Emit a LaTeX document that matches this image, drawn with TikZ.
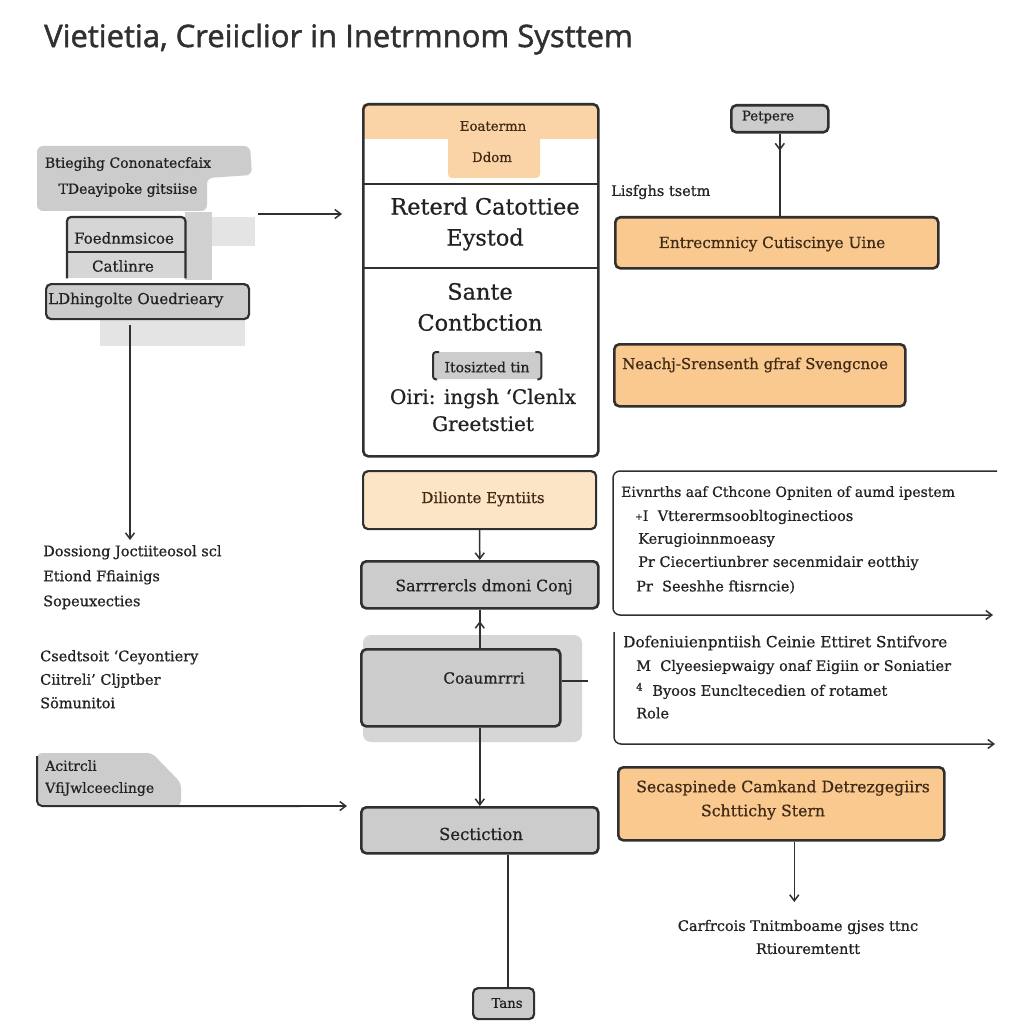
\documentclass[tikz,border=0pt]{standalone}
\usepackage{fontspec}
\setmainfont{DejaVu Serif}[FakeBold=0.7]
\newfontfamily\titlefont[FakeBold=1.4]{Open Sans}
\usetikzlibrary{arrows.meta}
\definecolor{orng}{RGB}{249,201,144}
\definecolor{lorng}{RGB}{252,229,198}
\definecolor{gry}{RGB}{204,204,204}
\definecolor{mgry}{RGB}{214,214,214}
\definecolor{lgry}{RGB}{228,228,228}
\definecolor{dk}{RGB}{48,48,48}
\definecolor{txt}{RGB}{34,34,34}
\definecolor{brn}{RGB}{64,42,22}
\begin{document}
\begin{tikzpicture}[x=1pt,y=-1pt,
  every node/.style={text=txt, inner sep=0pt},
  box/.style={draw=dk, line width=2.6pt, rounded corners=5pt, anchor=north west},
  thin/.style={draw=dk, line width=1.5pt},
  arr/.style={draw=dk, line width=1.5pt, -{Straight Barb[length=6pt,width=9pt]}},
  sm/.style={font=\fontsize{15}{19}\selectfont},
  fs/.style={font=\fontsize{#1}{#1}\selectfont},
  lg/.style={font=\fontsize{22.4}{31}\selectfont, align=center},
  lefttxt/.style={anchor=north west, align=left, font=\fontsize{14.5}{25}\selectfont},
  brtxt/.style={anchor=west, font=\fontsize{14.5}{20}\selectfont}]
\useasboundingbox[fill=white] (0,0) rectangle (1023,1024);

% title
\node[anchor=west, font=\titlefont\fontsize{31}{34}\selectfont, text=dk] (title) at (44,39) {Vietietia, Creiiclior in Inetrmnom Systtem};

% ---------- left column ----------
\fill[gry, rounded corners=6pt] (37,146) -- (250,146) -- (252,175) -- (207,178) -- (207,211) -- (37,211) -- cycle;
\node[align=center, font=\fontsize{14}{26}\selectfont] (lt1) at (128,177) {Btiegihg Cononatecfaix\\TDeayipoke gitsiise};
\fill[lgry] (212,217) rectangle (255,246);
\fill[gry!90] (185,212) rectangle (212,280);
\node[anchor=north west, fill=mgry, minimum width=118, minimum height=61] (fc) at (67,217) {};
\draw[thin, line width=2.2pt, rounded corners=4pt] (fc.south west) -- (fc.north west) -- (fc.north east) -- (fc.south east);
\draw[thin] (67,252) -- (185,252);
\node[sm] (fc1) at (124,238) {Foednmsicoe};
\node[sm] (fc2) at (123,266) {Catlinre};
\fill[lgry] (100,318) rectangle (245,346);
\node[box, fill=gry, line width=2.2pt, minimum width=203, minimum height=35] (ld) at (45,283) {};
\node[sm, anchor=west] (ldt) at (48,300) {LDhingolte Ouedrieary};
\coordinate (ldout) at (130,325);
\coordinate (ldend) at (130,540);
\draw[arr] (ldout) -- (ldend);
\coordinate (fcout) at (258,214);
\coordinate (bigin) at (342,214);
\draw[arr] (fcout) -- (bigin);

\node[lefttxt] (lt2) at (43,545) {Dossiong Joctiiteosol scl\\Etiond Ffiainigs\\Sopeuxecties};
\node[lefttxt, font=\fontsize{14.5}{23.5}\selectfont] (lt3) at (40,650) {Csedtsoit `Ceyontiery\\Ciitreli' Cljptber\\S\"omunitoi};

\fill[gry, rounded corners=5pt] (37,753) -- (152,753) -- (181,783) -- (181,806) -- (37,806) -- cycle;
\node[anchor=north west, align=left, font=\fontsize{14}{22}\selectfont] (ac) at (45,760) {Acitrcli\\VfiJwlceeclinge};
\coordinate (acend) at (347,806);
\draw[thin, line width=2pt, rounded corners=5pt] (37,756) -- (37,806) -- (300,806);
\draw[arr] (250,806) -- (acend);

% ---------- centre column ----------
\fill[orng!80, rounded corners=4pt] (362,103) rectangle (597,139);
\fill[orng!80] (362,120) rectangle (597,139);
\fill[orng!80, rounded corners=4pt] (448,130) rectangle (540,178);
\node[box, minimum width=235, minimum height=352] (big) at (362,103) {};
\draw[thin] (362,184) -- (597,184);
\draw[thin] (362,268) -- (597,268);
\node[fs=13.3, text=brn] (b1) at (493,126) {Eoatermn};
\node[fs=13.3, text=brn] (b2) at (492,157) {Ddom};
\node[lg] (b3) at (485,224) {Reterd Catottiee\\Eystod};
\node[lg] (b4) at (480,307) {Sante\\Contbction};
\node[anchor=north west, fill=gry, rounded corners=4pt, minimum width=108, minimum height=27] (iso) at (433,352) {};
\draw[thin, line width=2pt, rounded corners=3pt] ([xshift=4pt]iso.south west) -- (iso.south west) -- (iso.north west) -- ([xshift=6pt]iso.north west);
\draw[thin, line width=2pt, rounded corners=3pt] ([xshift=-4pt]iso.south east) -- (iso.south east) -- (iso.north east) -- ([xshift=-6pt]iso.north east);
\node[fs=14] (isot) at (487,367) {Itosizted tin};
\node[lg, font=\fontsize{20}{27}\selectfont] (b5) at (483,410) {Oiri: ingsh `Clenlx\\Greetstiet};

\node[box, fill=lorng, line width=2.2pt, minimum width=233, minimum height=58] (dil) at (362,470) {};
\node[sm, text=brn] (dilt) at (483,499) {Dilionte Eyntiits};
\node[box, fill=gry, minimum width=237, minimum height=47] (sarr) at (360,560) {};
\node[fs=15.7] (sarrt) at (484,587) {Sarrrercls dmoni Conj};
\draw[arr] (dil.south) -- (sarr.north);

\fill[mgry, rounded corners=8pt] (363,635) rectangle (582,742);
\node[box, fill=gry, minimum width=199, minimum height=77] (coam) at (360,648) {};
\node[fs=15.3] (coamt) at (484,678) {Coaumrrri};
\draw[thin] (sarr.south) -- (sarr.south |- coam.north);
\draw[arr] (sarr.south |- coam.north) -- ([yshift=27pt]sarr.south |- coam.north);
\coordinate (coamr) at (588,681);
\draw[thin] (coam.east |- coamr) -- (coamr);

\node[box, fill=gry, minimum width=237, minimum height=46] (sect) at (360,806) {};
\node[fs=16.5] (sectt) at (481,834) {Sectiction};
\draw[arr] (coam.south -| sect.north) -- (sect.north);
\node[box, fill=gry, line width=2.2pt, minimum width=61, minimum height=31] (tans) at (472,987) {};
\node[fs=13.3] (tanst) at (507,1003) {Tans};
\draw[thin] (sect.south -| 508,0) -- (tans.north -| 508,0);

% ---------- right column ----------
\node[box, fill=gry, minimum width=97, minimum height=27] (pet) at (730,104) {};
\node[fs=13.3] (pett) at (768,117) {Petpere};
\node[box, fill=orng, minimum width=323, minimum height=51] (ent) at (614,216) {};
\node[fs=15.3, text=brn] (entt) at (772,244) {Entrecmnicy Cutiscinye Uine};
\draw[thin] (pet.south) -- (pet.south |- ent.north);
\draw[arr] (pet.south) -- ([yshift=-17pt]pet.south);
\node[fs=14.5, anchor=west] (lis) at (611,192) {Lisfghs tsetm};
\node[box, fill=orng, minimum width=291, minimum height=62] (nea) at (613,343) {};
\node[sm, anchor=west, text=brn] (neat) at (622,365) {Neachj-Srensenth gfraf Svengcnoe};

\coordinate (br1a) at (997,471);
\coordinate (br1b) at (993,615);
\draw[arr, rounded corners=7pt] (br1a) -- (613,471) -- (613,615) -- (br1b);
\node[brtxt, font=\fontsize{14}{19}\selectfont] (r1) at (621,493) {Eivnrths aaf Cthcone Opniten of aumd ipestem};
\node[brtxt] (r2) at (635,517) {\raisebox{1pt}{\fontsize{9}{9}\selectfont +}I\ \ Vtterermsoobltoginectioos};
\node[brtxt] (r3) at (638,540) {Kerugioinnmoeasy};
\node[brtxt] (r4) at (638,563) {Pr Ciecertiunbrer secenmidair eotthiy};
\node[brtxt] (r5) at (636,587) {Pr\ \ Seeshhe ftisrncie)};

\coordinate (br2a) at (614,632);
\coordinate (br2b) at (995,744);
\draw[arr, rounded corners=7pt] (br2a) -- (614,744) -- (br2b);
\node[brtxt, font=\fontsize{15.3}{20}\selectfont] (s1) at (623,643) {Dofeniuienpntiish Ceinie Ettiret Sntifvore};
\node[brtxt] (s2) at (636,667) {M\ \ Clyeesiepwaigy onaf Eigiin or Soniatier};
\node[brtxt] (s3) at (636,691) {\textsuperscript{4}\ \ Byoos Euncltecedien of rotamet};
\node[brtxt] (s4) at (636,713) {Role};

\node[box, fill=orng, minimum width=326, minimum height=73] (sec) at (617,766) {};
\node[align=center, font=\fontsize{15.7}{24}\selectfont, text=brn] (sect1) at (783,800) {Secaspinede Camkand Detrezgegiirs\\Schttichy Stern\hspace*{40pt}};
\node[align=center, font=\fontsize{14.5}{23}\selectfont] (res) at (798,937) {Carfrcois Tnitmboame gjses ttnc\\\hspace*{20pt}Rtiouremtentt};
\draw[arr] ([xshift=13pt]sec.south) -- ([xshift=13pt]sec.south |- 0,902);
\end{tikzpicture}
\end{document}
